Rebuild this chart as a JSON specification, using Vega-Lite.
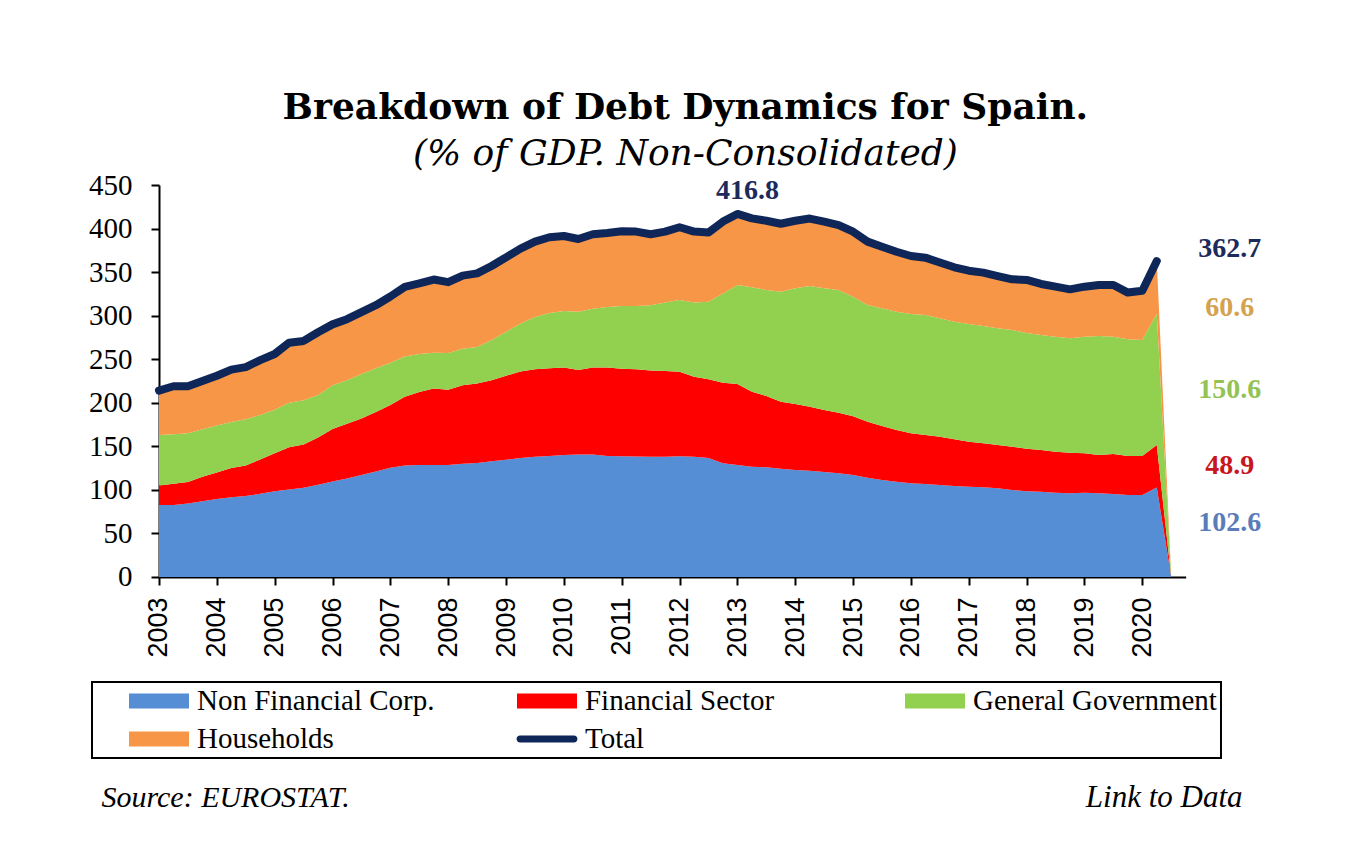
{
  "$schema": "https://vega.github.io/schema/vega-lite/v6.json",
  "width": 1026.7,
  "height": 392,
  "autosize": "none",
  "padding": {"left": 159, "top": 185, "right": 180, "bottom": 280},
  "background": "white",
  "title": {
    "text": "Breakdown of Debt Dynamics for Spain.",
    "subtitle": "(% of GDP. Non-Consolidated)",
    "font": "DejaVu Serif",
    "fontSize": 36,
    "fontWeight": "bold",
    "color": "black",
    "subtitleFont": "DejaVu Serif",
    "subtitleFontSize": 36,
    "subtitleFontStyle": "italic",
    "subtitleColor": "black",
    "subtitlePadding": 10,
    "anchor": "middle",
    "frame": "group",
    "dx": 13,
    "offset": -2
  },
  "data": {
    "values": [
      {"t": 2003.00, "nfc": 82.6, "fs": 22.4, "gg": 58.0, "hh": 51.0, "total": 214.0},
      {"t": 2003.25, "nfc": 82.6, "fs": 24.4, "gg": 57.0, "hh": 55.0, "total": 219.0},
      {"t": 2003.50, "nfc": 84.5, "fs": 24.5, "gg": 56.0, "hh": 54.0, "total": 219.0},
      {"t": 2003.75, "nfc": 87.0, "fs": 28.0, "gg": 54.5, "hh": 55.5, "total": 225.0},
      {"t": 2004.00, "nfc": 89.5, "fs": 30.5, "gg": 54.0, "hh": 57.0, "total": 231.0},
      {"t": 2004.25, "nfc": 91.5, "fs": 33.5, "gg": 53.0, "hh": 60.0, "total": 238.0},
      {"t": 2004.50, "nfc": 93.0, "fs": 35.0, "gg": 53.0, "hh": 60.0, "total": 241.0},
      {"t": 2004.75, "nfc": 95.5, "fs": 39.5, "gg": 51.0, "hh": 63.0, "total": 249.0},
      {"t": 2005.00, "nfc": 98.5, "fs": 43.5, "gg": 50.0, "hh": 64.0, "total": 256.0},
      {"t": 2005.25, "nfc": 100.5, "fs": 48.5, "gg": 51.0, "hh": 69.0, "total": 269.0},
      {"t": 2005.50, "nfc": 102.5, "fs": 49.5, "gg": 51.0, "hh": 68.0, "total": 271.0},
      {"t": 2005.75, "nfc": 106.0, "fs": 54.0, "gg": 49.0, "hh": 72.0, "total": 281.0},
      {"t": 2006.00, "nfc": 109.5, "fs": 60.5, "gg": 50.0, "hh": 70.0, "total": 290.0},
      {"t": 2006.25, "nfc": 113.0, "fs": 63.0, "gg": 50.0, "hh": 70.0, "total": 296.0},
      {"t": 2006.50, "nfc": 117.0, "fs": 65.0, "gg": 51.0, "hh": 71.0, "total": 304.0},
      {"t": 2006.75, "nfc": 121.0, "fs": 68.5, "gg": 50.0, "hh": 72.5, "total": 312.0},
      {"t": 2007.00, "nfc": 125.5, "fs": 72.0, "gg": 48.5, "hh": 76.0, "total": 322.0},
      {"t": 2007.25, "nfc": 128.0, "fs": 79.0, "gg": 46.0, "hh": 80.0, "total": 333.0},
      {"t": 2007.50, "nfc": 128.5, "fs": 84.0, "gg": 43.5, "hh": 81.0, "total": 337.0},
      {"t": 2007.75, "nfc": 128.5, "fs": 88.0, "gg": 41.0, "hh": 84.0, "total": 341.5},
      {"t": 2008.00, "nfc": 128.5, "fs": 86.5, "gg": 42.0, "hh": 81.5, "total": 338.5},
      {"t": 2008.25, "nfc": 130.0, "fs": 90.0, "gg": 42.0, "hh": 84.0, "total": 346.0},
      {"t": 2008.50, "nfc": 131.0, "fs": 91.0, "gg": 42.0, "hh": 84.5, "total": 348.5},
      {"t": 2008.75, "nfc": 133.0, "fs": 93.0, "gg": 46.0, "hh": 85.0, "total": 357.0},
      {"t": 2009.00, "nfc": 134.5, "fs": 96.5, "gg": 50.5, "hh": 85.5, "total": 367.0},
      {"t": 2009.25, "nfc": 136.5, "fs": 99.5, "gg": 55.0, "hh": 86.0, "total": 377.0},
      {"t": 2009.50, "nfc": 138.0, "fs": 100.5, "gg": 60.0, "hh": 86.5, "total": 385.0},
      {"t": 2009.75, "nfc": 139.0, "fs": 100.5, "gg": 63.5, "hh": 87.0, "total": 390.0},
      {"t": 2010.00, "nfc": 140.0, "fs": 100.5, "gg": 65.0, "hh": 86.0, "total": 391.5},
      {"t": 2010.25, "nfc": 140.5, "fs": 97.0, "gg": 67.0, "hh": 83.5, "total": 388.0},
      {"t": 2010.50, "nfc": 140.5, "fs": 100.0, "gg": 67.5, "hh": 85.5, "total": 393.5},
      {"t": 2010.75, "nfc": 139.0, "fs": 101.5, "gg": 69.5, "hh": 85.0, "total": 395.0},
      {"t": 2011.00, "nfc": 138.5, "fs": 100.5, "gg": 72.0, "hh": 86.0, "total": 397.0},
      {"t": 2011.25, "nfc": 138.2, "fs": 100.3, "gg": 72.5, "hh": 85.5, "total": 396.5},
      {"t": 2011.50, "nfc": 138.0, "fs": 99.0, "gg": 75.0, "hh": 81.5, "total": 393.5},
      {"t": 2011.75, "nfc": 138.0, "fs": 98.5, "gg": 78.5, "hh": 81.5, "total": 396.5},
      {"t": 2012.00, "nfc": 138.5, "fs": 97.2, "gg": 82.3, "hh": 83.5, "total": 401.5},
      {"t": 2012.25, "nfc": 138.0, "fs": 92.0, "gg": 85.0, "hh": 81.5, "total": 396.5},
      {"t": 2012.50, "nfc": 136.5, "fs": 90.5, "gg": 89.0, "hh": 79.5, "total": 395.5},
      {"t": 2012.75, "nfc": 130.5, "fs": 92.5, "gg": 102.5, "hh": 82.5, "total": 408.0},
      {"t": 2013.00, "nfc": 128.6, "fs": 92.9, "gg": 113.7, "hh": 81.6, "total": 416.8},
      {"t": 2013.25, "nfc": 126.6, "fs": 86.1, "gg": 119.9, "hh": 79.1, "total": 411.7},
      {"t": 2013.50, "nfc": 125.9, "fs": 81.9, "gg": 121.7, "hh": 79.5, "total": 409.0},
      {"t": 2013.75, "nfc": 124.3, "fs": 77.0, "gg": 126.2, "hh": 78.0, "total": 405.5},
      {"t": 2014.00, "nfc": 122.8, "fs": 75.8, "gg": 132.8, "hh": 77.6, "total": 409.0},
      {"t": 2014.25, "nfc": 122.0, "fs": 73.5, "gg": 138.5, "hh": 77.5, "total": 411.5},
      {"t": 2014.50, "nfc": 120.5, "fs": 71.2, "gg": 139.7, "hh": 76.6, "total": 408.0},
      {"t": 2014.75, "nfc": 119.0, "fs": 69.6, "gg": 140.9, "hh": 74.5, "total": 404.0},
      {"t": 2015.00, "nfc": 117.0, "fs": 67.5, "gg": 137.3, "hh": 74.6, "total": 396.4},
      {"t": 2015.25, "nfc": 114.0, "fs": 64.3, "gg": 134.0, "hh": 72.7, "total": 385.0},
      {"t": 2015.50, "nfc": 111.4, "fs": 61.9, "gg": 135.1, "hh": 70.8, "total": 379.2},
      {"t": 2015.75, "nfc": 109.4, "fs": 59.4, "gg": 135.8, "hh": 68.8, "total": 373.4},
      {"t": 2016.00, "nfc": 107.5, "fs": 57.5, "gg": 137.0, "hh": 66.5, "total": 368.5},
      {"t": 2016.25, "nfc": 106.8, "fs": 56.2, "gg": 137.8, "hh": 65.8, "total": 366.6},
      {"t": 2016.50, "nfc": 105.6, "fs": 55.4, "gg": 136.0, "hh": 64.0, "total": 361.0},
      {"t": 2016.75, "nfc": 104.5, "fs": 53.5, "gg": 135.0, "hh": 62.5, "total": 355.5},
      {"t": 2017.00, "nfc": 103.7, "fs": 51.6, "gg": 135.1, "hh": 61.2, "total": 351.6},
      {"t": 2017.25, "nfc": 103.0, "fs": 50.5, "gg": 134.6, "hh": 61.3, "total": 349.4},
      {"t": 2017.50, "nfc": 101.8, "fs": 49.7, "gg": 134.0, "hh": 60.0, "total": 345.5},
      {"t": 2017.75, "nfc": 99.9, "fs": 49.7, "gg": 133.9, "hh": 58.2, "total": 341.7},
      {"t": 2018.00, "nfc": 98.5, "fs": 48.7, "gg": 132.8, "hh": 61.0, "total": 341.0},
      {"t": 2018.25, "nfc": 98.0, "fs": 47.8, "gg": 132.0, "hh": 58.6, "total": 336.4},
      {"t": 2018.50, "nfc": 96.8, "fs": 47.1, "gg": 132.0, "hh": 57.4, "total": 333.3},
      {"t": 2018.75, "nfc": 96.0, "fs": 46.7, "gg": 131.3, "hh": 56.2, "total": 330.2},
      {"t": 2019.00, "nfc": 96.8, "fs": 45.2, "gg": 133.9, "hh": 57.4, "total": 333.3},
      {"t": 2019.25, "nfc": 96.0, "fs": 44.0, "gg": 136.7, "hh": 58.5, "total": 335.2},
      {"t": 2019.50, "nfc": 95.3, "fs": 45.9, "gg": 134.7, "hh": 59.3, "total": 335.2},
      {"t": 2019.75, "nfc": 94.1, "fs": 44.8, "gg": 133.9, "hh": 53.7, "total": 326.5},
      {"t": 2020.00, "nfc": 94.1, "fs": 44.8, "gg": 133.1, "hh": 56.5, "total": 328.5},
      {"t": 2020.25, "nfc": 102.6, "fs": 48.9, "gg": 150.6, "hh": 60.6, "total": 362.7},
      {"t": 2020.50, "nfc": 0, "fs": 0, "gg": 0, "hh": 0, "total": null}
    ]
  },
  "layer": [
    {
      "transform": [
        {"fold": ["nfc", "fs", "gg", "hh"]},
        {"calculate": "indexof(['nfc', 'fs', 'gg', 'hh'], datum.key)", "as": "rank"}
      ],
      "mark": {"type": "area", "interpolate": "linear"},
      "encoding": {
        "x": {
          "field": "t",
          "type": "quantitative",
          "scale": {"domain": [2003, 2020.75], "nice": false, "zero": false},
          "axis": {
            "values": [2003, 2004, 2005, 2006, 2007, 2008, 2009, 2010, 2011, 2012, 2013, 2014, 2015, 2016, 2017, 2018, 2019, 2020],
            "format": "d",
            "labelAngle": -90,
            "labelFont": "Liberation Sans",
            "labelFontSize": 27,
            "labelPadding": 12,
            "labelColor": "black",
            "labelOverlap": false,
            "tickSize": 8,
            "tickWidth": 2,
            "tickColor": "black",
            "domainWidth": 2,
            "domainColor": "black",
            "grid": false,
            "title": "Source: EUROSTAT.",
            "titleFont": "Liberation Serif",
            "titleFontStyle": "italic",
            "titleFontWeight": "normal",
            "titleFontSize": 30,
            "titleColor": "black",
            "titleAlign": "left",
            "titleBaseline": "alphabetic",
            "titleX": -58,
            "titleY": 230
          }
        },
        "y": {
          "field": "value",
          "type": "quantitative",
          "stack": "zero",
          "scale": {"domain": [0, 450], "nice": false},
          "axis": {
            "values": [0, 50, 100, 150, 200, 250, 300, 350, 400, 450],
            "labelFont": "Liberation Serif",
            "labelFontSize": 29,
            "labelPadding": 19,
            "labelColor": "black",
            "tickSize": 8,
            "tickWidth": 2,
            "tickColor": "black",
            "domainWidth": 2,
            "domainColor": "black",
            "grid": false,
            "title": "Link to Data",
            "titleAngle": 0,
            "titleFont": "Liberation Serif",
            "titleFontStyle": "italic",
            "titleFontWeight": "normal",
            "titleFontSize": 31,
            "titleColor": "black",
            "titleAlign": "right",
            "titleBaseline": "alphabetic",
            "titleX": 1083,
            "titleY": 622
          }
        },
        "color": {
          "field": "key",
          "type": "nominal",
          "scale": {
            "domain": ["nfc", "fs", "gg", "hh", "total"],
            "range": ["#558ED5", "#FF0000", "#92D050", "#F79646", "#0F2658"]
          },
          "legend": {
            "orient": "none",
            "legendX": -67,
            "legendY": 497,
            "columns": 3,
            "direction": "horizontal",
            "gridAlign": "all",
            "columnPadding": 75,
            "rowPadding": 8,
            "padding": 4,
            "strokeColor": "black",
            "fillColor": "white",
            "title": "\u00a0",
            "titleOrient": "left",
            "titleFontSize": 29,
            "titleFont": "Liberation Serif",
            "titlePadding": 33,
            "symbolSize": 900,
            "labelOffset": 38,
            "labelFont": "Liberation Serif",
            "labelFontSize": 29,
            "labelColor": "black",
            "labelLimit": 400,
            "labelExpr": "datum.value == 'nfc' ? 'Non Financial Corp.' : datum.value == 'fs' ? 'Financial Sector' : datum.value == 'gg' ? 'General Government' : datum.value == 'hh' ? 'Households' : 'Total'",
            "encode": {
              "legend": {
                "update": {
                  "strokeWidth": {"value": 2}
                }
              },
              "symbols": {
                "update": {
                  "shape": {"signal": "datum.value == 'total' ? 'M-0.8,-0.23H2.8A0.23,0.23 0 0 1 2.8,0.23H-0.8A0.23,0.23 0 0 1 -0.8,-0.23Z' : 'M-1,-0.5H3V0.5H-1Z'"},
                  "fill": {"scale": "color", "field": "value"},
                  "fillOpacity": {"value": 1},
                  "strokeWidth": {"value": 0},
                  "opacity": {"value": 1}
                }
              }
            }
          }
        },
        "order": {"field": "rank", "type": "quantitative"}
      }
    },
    {
      "mark": {"type": "line", "strokeWidth": 8, "strokeCap": "round", "strokeJoin": "round"},
      "encoding": {
        "x": {"field": "t", "type": "quantitative"},
        "y": {"field": "total", "type": "quantitative"},
        "color": {"datum": "total", "type": "nominal"}
      }
    },
    {
      "transform": [{"filter": "datum.t == 2013"}],
      "mark": {"type": "text", "font": "Liberation Serif", "fontWeight": "bold", "fontSize": 28, "color": "#1C2B5B", "dx": 10, "dy": -23, "baseline": "middle", "align": "center"},
      "encoding": {
        "x": {"field": "t", "type": "quantitative"},
        "y": {"field": "total", "type": "quantitative"},
        "text": {"field": "total", "type": "quantitative", "format": ".1f"}
      }
    },
    {
      "transform": [{"filter": "datum.t == 2020.25"}],
      "mark": {"type": "text", "font": "Liberation Serif", "fontWeight": "bold", "fontSize": 28, "color": "#1C2B5B", "dx": 73, "dy": -12, "baseline": "middle", "align": "center"},
      "encoding": {
        "x": {"field": "t", "type": "quantitative"},
        "y": {"field": "total", "type": "quantitative"},
        "text": {"field": "total", "type": "quantitative", "format": ".1f"}
      }
    },
    {
      "transform": [
        {"filter": "datum.t == 2020.25"},
        {"fold": ["nfc", "fs", "gg", "hh"]},
        {"calculate": "indexof(['nfc', 'fs', 'gg', 'hh'], datum.key)", "as": "rank"}
      ],
      "mark": {
        "type": "text",
        "font": "Liberation Serif",
        "fontWeight": "bold",
        "fontSize": 28,
        "dx": 73,
        "baseline": "middle",
        "align": "center",
        "fill": {"expr": "datum.key == 'nfc' ? '#5A7DBA' : datum.key == 'fs' ? '#C8161D' : datum.key == 'gg' ? '#93C255' : '#D5A24F'"},
        "dy": {"expr": "datum.key == 'nfc' ? -9 : datum.key == 'fs' ? 0 : datum.key == 'gg' ? 11 : 21"}
      },
      "encoding": {
        "x": {"field": "t", "type": "quantitative"},
        "y": {"field": "value", "type": "quantitative", "stack": "zero", "bandPosition": 0.5},
        "detail": {"field": "key", "type": "nominal"},
        "order": {"field": "rank", "type": "quantitative"},
        "text": {"field": "value", "type": "quantitative", "format": ".1f"}
      }
    }
  ],
  "config": {
    "view": {"stroke": null}
  }
}
